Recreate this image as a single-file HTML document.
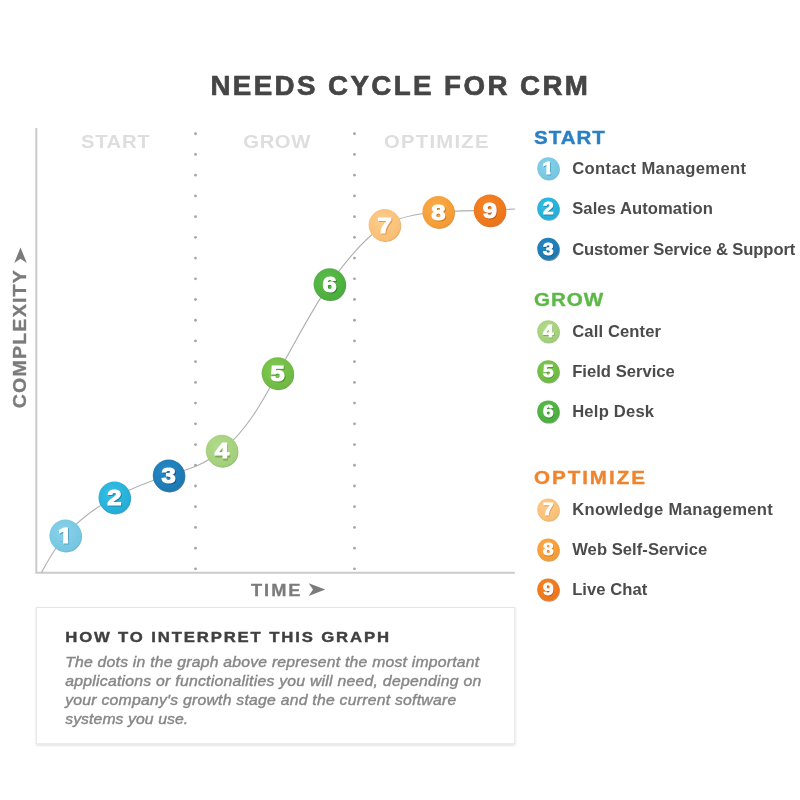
<!DOCTYPE html>
<html lang="en">
<head>
<meta charset="utf-8">
<title>Needs Cycle for CRM</title>
<style>
html,body{margin:0;padding:0;background:#fff;}
body{width:800px;height:800px;overflow:hidden;font-family:"Liberation Sans",sans-serif;}
svg{display:block;}
text{font-family:"Liberation Sans",sans-serif;}
.b{font-weight:bold;}
.i{font-style:italic;}
</style>
</head>
<body>
<svg width="800" height="800" viewBox="0 0 800 800">
<defs>
<filter id="bx" x="-5%" y="-5%" width="110%" height="115%"><feGaussianBlur in="SourceAlpha" stdDeviation="1"/><feOffset dx="0" dy="1"/><feComponentTransfer><feFuncA type="linear" slope="0.18"/></feComponentTransfer><feMerge><feMergeNode/><feMergeNode in="SourceGraphic"/></feMerge></filter>
<filter id="sb" x="-20%" y="-20%" width="140%" height="140%"><feGaussianBlur stdDeviation="0.6"/></filter>
<radialGradient id="g1" cx="42%" cy="38%" r="70%"><stop offset="0" stop-color="#8ad1e9"/><stop offset="1" stop-color="#72c5e1"/></radialGradient>
<radialGradient id="g2" cx="42%" cy="38%" r="70%"><stop offset="0" stop-color="#38bfe3"/><stop offset="1" stop-color="#20abd5"/></radialGradient>
<radialGradient id="g3" cx="42%" cy="38%" r="70%"><stop offset="0" stop-color="#2789c6"/><stop offset="1" stop-color="#1b76b0"/></radialGradient>
<radialGradient id="g4" cx="42%" cy="38%" r="70%"><stop offset="0" stop-color="#b3db8e"/><stop offset="1" stop-color="#9fcd76"/></radialGradient>
<radialGradient id="g5" cx="42%" cy="38%" r="70%"><stop offset="0" stop-color="#82c954"/><stop offset="1" stop-color="#6bb73e"/></radialGradient>
<radialGradient id="g6" cx="42%" cy="38%" r="70%"><stop offset="0" stop-color="#5dbd4c"/><stop offset="1" stop-color="#47ab3a"/></radialGradient>
<radialGradient id="g7" cx="42%" cy="38%" r="70%"><stop offset="0" stop-color="#fdcd8d"/><stop offset="1" stop-color="#f9bc70"/></radialGradient>
<radialGradient id="g8" cx="42%" cy="38%" r="70%"><stop offset="0" stop-color="#faad4d"/><stop offset="1" stop-color="#f4982e"/></radialGradient>
<radialGradient id="g9" cx="42%" cy="38%" r="70%"><stop offset="0" stop-color="#f68629"/><stop offset="1" stop-color="#ec7216"/></radialGradient>
<clipPath id="c1_225"><path d="M-6.26 -17.58 H2.83 V2.10 H-1.76 V-3.15 H-6.26 Z"/></clipPath>
<clipPath id="c1_165"><path d="M-4.58 -13.15 H2.13 V1.80 H-1.34 V-2.38 H-4.58 Z"/></clipPath>
</defs>
<text class="b" transform="translate(210.4 94.8) scale(1.0 1)" font-size="27.7" fill="#454545" stroke="#454545" stroke-width="0.7" textLength="377.50" lengthAdjust="spacing">NEEDS CYCLE FOR CRM</text>
<text class="b" transform="translate(81 147.5) scale(1.1 1)" font-size="18.4" fill="#dedede" textLength="62.27" lengthAdjust="spacing">START</text>
<text class="b" transform="translate(243.3 147.5) scale(1.1 1)" font-size="18.4" fill="#dedede" textLength="60.91" lengthAdjust="spacing">GROW</text>
<text class="b" transform="translate(384 147.5) scale(1.1 1)" font-size="18.4" fill="#dedede" textLength="95.00" lengthAdjust="spacing">OPTIMIZE</text>
<g fill="#a6a6a6">
<circle cx="195.5" cy="133.75" r="1.4"/><circle cx="195.5" cy="154.47" r="1.4"/><circle cx="195.5" cy="175.19" r="1.4"/><circle cx="195.5" cy="195.91" r="1.4"/><circle cx="195.5" cy="216.63" r="1.4"/><circle cx="195.5" cy="237.35" r="1.4"/><circle cx="195.5" cy="258.07" r="1.4"/><circle cx="195.5" cy="278.79" r="1.4"/><circle cx="195.5" cy="299.51" r="1.4"/><circle cx="195.5" cy="320.23" r="1.4"/><circle cx="195.5" cy="340.95" r="1.4"/><circle cx="195.5" cy="361.67" r="1.4"/><circle cx="195.5" cy="382.39" r="1.4"/><circle cx="195.5" cy="403.11" r="1.4"/><circle cx="195.5" cy="423.83" r="1.4"/><circle cx="195.5" cy="444.55" r="1.4"/><circle cx="195.5" cy="465.27" r="1.4"/><circle cx="195.5" cy="485.99" r="1.4"/><circle cx="195.5" cy="506.71" r="1.4"/><circle cx="195.5" cy="527.43" r="1.4"/><circle cx="195.5" cy="548.15" r="1.4"/><circle cx="195.5" cy="568.87" r="1.4"/>
<circle cx="354.5" cy="133.75" r="1.4"/><circle cx="354.5" cy="154.47" r="1.4"/><circle cx="354.5" cy="175.19" r="1.4"/><circle cx="354.5" cy="195.91" r="1.4"/><circle cx="354.5" cy="216.63" r="1.4"/><circle cx="354.5" cy="237.35" r="1.4"/><circle cx="354.5" cy="258.07" r="1.4"/><circle cx="354.5" cy="278.79" r="1.4"/><circle cx="354.5" cy="299.51" r="1.4"/><circle cx="354.5" cy="320.23" r="1.4"/><circle cx="354.5" cy="340.95" r="1.4"/><circle cx="354.5" cy="361.67" r="1.4"/><circle cx="354.5" cy="382.39" r="1.4"/><circle cx="354.5" cy="403.11" r="1.4"/><circle cx="354.5" cy="423.83" r="1.4"/><circle cx="354.5" cy="444.55" r="1.4"/><circle cx="354.5" cy="465.27" r="1.4"/><circle cx="354.5" cy="485.99" r="1.4"/><circle cx="354.5" cy="506.71" r="1.4"/><circle cx="354.5" cy="527.43" r="1.4"/><circle cx="354.5" cy="548.15" r="1.4"/><circle cx="354.5" cy="568.87" r="1.4"/>
</g>
<path d="M36.3 128 V572.7 H514.8" fill="none" stroke="#cbcbcb" stroke-width="2"/>
<path id="curve" d="M41.5 572.5 C49.5 557.5,57.5 545,65.4 535.5 C78 521,96 507,114.5 497.5 C132 488,150 481,168.75 475.5 C188 469.5,206 464,221.8 450.8 C246 431,262 403,277.6 373.3 C295 343,311 311,329.6 284.2 C345 262,363 239,384.6 225 C400 216.5,419 213.5,438.4 212 C456 211,472 210.6,489.8 210.4 C500 209.9,508 209.4,515 209" fill="none" stroke="#b0b0b0" stroke-width="1.15"/>
<circle cx="66.2" cy="536.6" r="15.8" fill="#4fa3c0" fill-opacity="0.8" filter="url(#sb)"/><circle cx="65.4" cy="535.5" r="16" fill="url(#g1)"/><g transform="translate(65.10 543.10) scale(1.14 1)" class="b" font-size="22.5" text-anchor="middle"><g transform="translate(0.8 1.3)" clip-path="url(#c1_225)"><text fill="#4fa3c0" stroke="#4fa3c0" stroke-width="1.1">1</text></g><g clip-path="url(#c1_225)"><text fill="#fff" stroke="#fff" stroke-width="1.1">1</text></g></g>
<circle cx="115.3" cy="498.6" r="15.8" fill="#1488ad" fill-opacity="0.8" filter="url(#sb)"/><circle cx="114.5" cy="497.5" r="16" fill="url(#g2)"/><g transform="translate(114.5 505.10) scale(1.14 1)" class="b" font-size="22.5" text-anchor="middle"><text x="0.8" y="1.3" fill="#1488ad" stroke="#1488ad" stroke-width="1.1">2</text><text fill="#fff" stroke="#fff" stroke-width="1.1">2</text></g>
<circle cx="169.55" cy="476.6" r="15.8" fill="#115a8a" fill-opacity="0.8" filter="url(#sb)"/><circle cx="168.75" cy="475.5" r="16" fill="url(#g3)"/><g transform="translate(168.75 483.10) scale(1.14 1)" class="b" font-size="22.5" text-anchor="middle"><text x="0.8" y="1.3" fill="#115a8a" stroke="#115a8a" stroke-width="1.1">3</text><text fill="#fff" stroke="#fff" stroke-width="1.1">3</text></g>
<circle cx="222.60000000000002" cy="451.90000000000003" r="15.8" fill="#7bab52" fill-opacity="0.8" filter="url(#sb)"/><circle cx="221.8" cy="450.8" r="16" fill="url(#g4)"/><g transform="translate(221.8 458.40) scale(1.14 1)" class="b" font-size="22.5" text-anchor="middle"><text x="0.8" y="1.3" fill="#7bab52" stroke="#7bab52" stroke-width="1.1">4</text><text fill="#fff" stroke="#fff" stroke-width="1.1">4</text></g>
<circle cx="278.40000000000003" cy="374.40000000000003" r="15.8" fill="#4e952a" fill-opacity="0.8" filter="url(#sb)"/><circle cx="277.6" cy="373.3" r="16" fill="url(#g5)"/><g transform="translate(277.6 380.90) scale(1.14 1)" class="b" font-size="22.5" text-anchor="middle"><text x="0.8" y="1.3" fill="#4e952a" stroke="#4e952a" stroke-width="1.1">5</text><text fill="#fff" stroke="#fff" stroke-width="1.1">5</text></g>
<circle cx="330.40000000000003" cy="285.3" r="15.8" fill="#2f8726" fill-opacity="0.8" filter="url(#sb)"/><circle cx="329.6" cy="284.2" r="16" fill="url(#g6)"/><g transform="translate(329.6 291.80) scale(1.14 1)" class="b" font-size="22.5" text-anchor="middle"><text x="0.8" y="1.3" fill="#2f8726" stroke="#2f8726" stroke-width="1.1">6</text><text fill="#fff" stroke="#fff" stroke-width="1.1">6</text></g>
<circle cx="385.40000000000003" cy="226.1" r="15.8" fill="#dc9a4c" fill-opacity="0.8" filter="url(#sb)"/><circle cx="384.6" cy="225" r="16" fill="url(#g7)"/><g transform="translate(384.6 232.60) scale(1.14 1)" class="b" font-size="22.5" text-anchor="middle"><text x="0.8" y="1.3" fill="#dc9a4c" stroke="#dc9a4c" stroke-width="1.1">7</text><text fill="#fff" stroke="#fff" stroke-width="1.1">7</text></g>
<circle cx="439.2" cy="213.1" r="15.8" fill="#d07a1a" fill-opacity="0.8" filter="url(#sb)"/><circle cx="438.4" cy="212" r="16" fill="url(#g8)"/><g transform="translate(438.4 219.60) scale(1.14 1)" class="b" font-size="22.5" text-anchor="middle"><text x="0.8" y="1.3" fill="#d07a1a" stroke="#d07a1a" stroke-width="1.1">8</text><text fill="#fff" stroke="#fff" stroke-width="1.1">8</text></g>
<circle cx="490.6" cy="211.5" r="15.8" fill="#c4580b" fill-opacity="0.8" filter="url(#sb)"/><circle cx="489.8" cy="210.4" r="16" fill="url(#g9)"/><g transform="translate(489.8 218.00) scale(1.14 1)" class="b" font-size="22.5" text-anchor="middle"><text x="0.8" y="1.3" fill="#c4580b" stroke="#c4580b" stroke-width="1.1">9</text><text fill="#fff" stroke="#fff" stroke-width="1.1">9</text></g>
<text class="b" transform="translate(251 595.6) scale(1.1 1)" font-size="16.6" fill="#7b7b7b" stroke="#7b7b7b" stroke-width="0.3" textLength="45.00" lengthAdjust="spacing">TIME</text>
<path d="M308.7 583.2 L325.3 589.6 L308.7 596 L313 589.6 Z" fill="#7b7b7b"/>
<text class="b" transform="translate(26.1 408.3) rotate(-90) scale(1.1 1)" font-size="17.8" fill="#7b7b7b" stroke="#7b7b7b" stroke-width="0.3" textLength="125.5">COMPLEXITY</text>
<path d="M20.5 247.5 L26.8 263 L20.5 258.8 L14.2 263 Z" fill="#7b7b7b"/>
<text class="b" transform="translate(534.0 143.60000000000002) scale(1.1 1)" font-size="18.7" fill="#2a80c5" stroke="#2a80c5" stroke-width="0.35" textLength="64.45" lengthAdjust="spacing">START</text>
<circle cx="548.9" cy="169.5" r="11" fill="#4fa3c0" fill-opacity="0.7" filter="url(#sb)"/><circle cx="548.2" cy="168.3" r="11" fill="url(#g1)"/><g transform="translate(547.90 174.20) scale(1.16 1)" class="b" font-size="16.5" text-anchor="middle"><g transform="translate(0.6 0.9)" clip-path="url(#c1_165)"><text fill="#4fa3c0" stroke="#4fa3c0" stroke-width="0.8">1</text></g><g clip-path="url(#c1_165)"><text fill="#fff" stroke="#fff" stroke-width="0.8">1</text></g></g>
<text class="b" transform="translate(572.2 174.0) scale(1.0 1)" font-size="16.6" fill="#4b4b4b" textLength="173.90" lengthAdjust="spacing">Contact Management</text>
<circle cx="548.9" cy="209.7" r="11" fill="#1488ad" fill-opacity="0.7" filter="url(#sb)"/><circle cx="548.2" cy="208.5" r="11" fill="url(#g2)"/><g transform="translate(548.2 214.40) scale(1.16 1)" class="b" font-size="16.5" text-anchor="middle"><text x="0.6" y="0.9" fill="#1488ad" stroke="#1488ad" stroke-width="0.8">2</text><text fill="#fff" stroke="#fff" stroke-width="0.8">2</text></g>
<text class="b" transform="translate(572.2 214.2) scale(1.0 1)" font-size="16.6" fill="#4b4b4b" textLength="140.60" lengthAdjust="spacing">Sales Automation</text>
<circle cx="548.9" cy="250.0" r="11" fill="#115a8a" fill-opacity="0.7" filter="url(#sb)"/><circle cx="548.2" cy="248.8" r="11" fill="url(#g3)"/><g transform="translate(548.2 254.70) scale(1.16 1)" class="b" font-size="16.5" text-anchor="middle"><text x="0.6" y="0.9" fill="#115a8a" stroke="#115a8a" stroke-width="0.8">3</text><text fill="#fff" stroke="#fff" stroke-width="0.8">3</text></g>
<text class="b" transform="translate(572.2 254.5) scale(1.0 1)" font-size="16.6" fill="#4b4b4b" textLength="223.10" lengthAdjust="spacing">Customer Service &amp; Support</text>
<text class="b" transform="translate(534.0 306.2) scale(1.1 1)" font-size="18.7" fill="#5cb947" stroke="#5cb947" stroke-width="0.35" textLength="62.91" lengthAdjust="spacing">GROW</text>
<circle cx="548.9" cy="332.4" r="11" fill="#7bab52" fill-opacity="0.7" filter="url(#sb)"/><circle cx="548.2" cy="331.2" r="11" fill="url(#g4)"/><g transform="translate(548.2 337.10) scale(1.16 1)" class="b" font-size="16.5" text-anchor="middle"><text x="0.6" y="0.9" fill="#7bab52" stroke="#7bab52" stroke-width="0.8">4</text><text fill="#fff" stroke="#fff" stroke-width="0.8">4</text></g>
<text class="b" transform="translate(572.2 336.9) scale(1.0 1)" font-size="16.6" fill="#4b4b4b" textLength="88.90" lengthAdjust="spacing">Call Center</text>
<circle cx="548.9" cy="372.5" r="11" fill="#4e952a" fill-opacity="0.7" filter="url(#sb)"/><circle cx="548.2" cy="371.3" r="11" fill="url(#g5)"/><g transform="translate(548.2 377.20) scale(1.16 1)" class="b" font-size="16.5" text-anchor="middle"><text x="0.6" y="0.9" fill="#4e952a" stroke="#4e952a" stroke-width="0.8">5</text><text fill="#fff" stroke="#fff" stroke-width="0.8">5</text></g>
<text class="b" transform="translate(572.2 377.0) scale(1.0 1)" font-size="16.6" fill="#4b4b4b" textLength="102.60" lengthAdjust="spacing">Field Service</text>
<circle cx="548.9" cy="412.6" r="11" fill="#2f8726" fill-opacity="0.7" filter="url(#sb)"/><circle cx="548.2" cy="411.4" r="11" fill="url(#g6)"/><g transform="translate(548.2 417.30) scale(1.16 1)" class="b" font-size="16.5" text-anchor="middle"><text x="0.6" y="0.9" fill="#2f8726" stroke="#2f8726" stroke-width="0.8">6</text><text fill="#fff" stroke="#fff" stroke-width="0.8">6</text></g>
<text class="b" transform="translate(572.2 417.1) scale(1.0 1)" font-size="16.6" fill="#4b4b4b" textLength="81.90" lengthAdjust="spacing">Help Desk</text>
<text class="b" transform="translate(534.0 483.6) scale(1.1 1)" font-size="18.7" fill="#f0842c" stroke="#f0842c" stroke-width="0.35" textLength="100.82" lengthAdjust="spacing">OPTIMIZE</text>
<circle cx="548.9" cy="510.7" r="11" fill="#dc9a4c" fill-opacity="0.7" filter="url(#sb)"/><circle cx="548.2" cy="509.5" r="11" fill="url(#g7)"/><g transform="translate(548.2 515.40) scale(1.16 1)" class="b" font-size="16.5" text-anchor="middle"><text x="0.6" y="0.9" fill="#dc9a4c" stroke="#dc9a4c" stroke-width="0.8">7</text><text fill="#fff" stroke="#fff" stroke-width="0.8">7</text></g>
<text class="b" transform="translate(572.2 515.2) scale(1.0 1)" font-size="16.6" fill="#4b4b4b" textLength="200.60" lengthAdjust="spacing">Knowledge Management</text>
<circle cx="548.9" cy="550.7" r="11" fill="#d07a1a" fill-opacity="0.7" filter="url(#sb)"/><circle cx="548.2" cy="549.5" r="11" fill="url(#g8)"/><g transform="translate(548.2 555.40) scale(1.16 1)" class="b" font-size="16.5" text-anchor="middle"><text x="0.6" y="0.9" fill="#d07a1a" stroke="#d07a1a" stroke-width="0.8">8</text><text fill="#fff" stroke="#fff" stroke-width="0.8">8</text></g>
<text class="b" transform="translate(572.2 555.2) scale(1.0 1)" font-size="16.6" fill="#4b4b4b" textLength="135.10" lengthAdjust="spacing">Web Self-Service</text>
<circle cx="548.9" cy="590.7" r="11" fill="#c4580b" fill-opacity="0.7" filter="url(#sb)"/><circle cx="548.2" cy="589.5" r="11" fill="url(#g9)"/><g transform="translate(548.2 595.40) scale(1.16 1)" class="b" font-size="16.5" text-anchor="middle"><text x="0.6" y="0.9" fill="#c4580b" stroke="#c4580b" stroke-width="0.8">9</text><text fill="#fff" stroke="#fff" stroke-width="0.8">9</text></g>
<text class="b" transform="translate(572.2 595.2) scale(1.0 1)" font-size="16.6" fill="#4b4b4b" textLength="75.10" lengthAdjust="spacing">Live Chat</text>
<rect x="36.4" y="607.5" width="478.4" height="136.3" fill="#fff" stroke="#e6e6e6" stroke-width="1" filter="url(#bx)"/>
<text class="b" transform="translate(65.2 641.8) scale(1.1 1)" font-size="15.2" fill="#404040" stroke="#404040" stroke-width="0.4" textLength="294.36" lengthAdjust="spacing">HOW TO INTERPRET THIS GRAPH</text>
<text class="i" transform="translate(65.2 666.5) scale(1.08 1)" font-size="14.6" fill="#878787" stroke="#878787" stroke-width="0.4" textLength="383.33" lengthAdjust="spacing">The dots in the graph above represent the most important</text>
<text class="i" transform="translate(65.2 685.7) scale(1.08 1)" font-size="14.6" fill="#878787" stroke="#878787" stroke-width="0.4" textLength="385.19" lengthAdjust="spacing">applications or functionalities you will need, depending on</text>
<text class="i" transform="translate(65.2 704.7) scale(1.08 1)" font-size="14.6" fill="#878787" stroke="#878787" stroke-width="0.4" textLength="362.04" lengthAdjust="spacing">your company's growth stage and the current software</text>
<text class="i" transform="translate(65.2 723.6) scale(1.08 1)" font-size="14.6" fill="#878787" stroke="#878787" stroke-width="0.4" textLength="113.89" lengthAdjust="spacing">systems you use.</text>
</svg>
</body>
</html>
